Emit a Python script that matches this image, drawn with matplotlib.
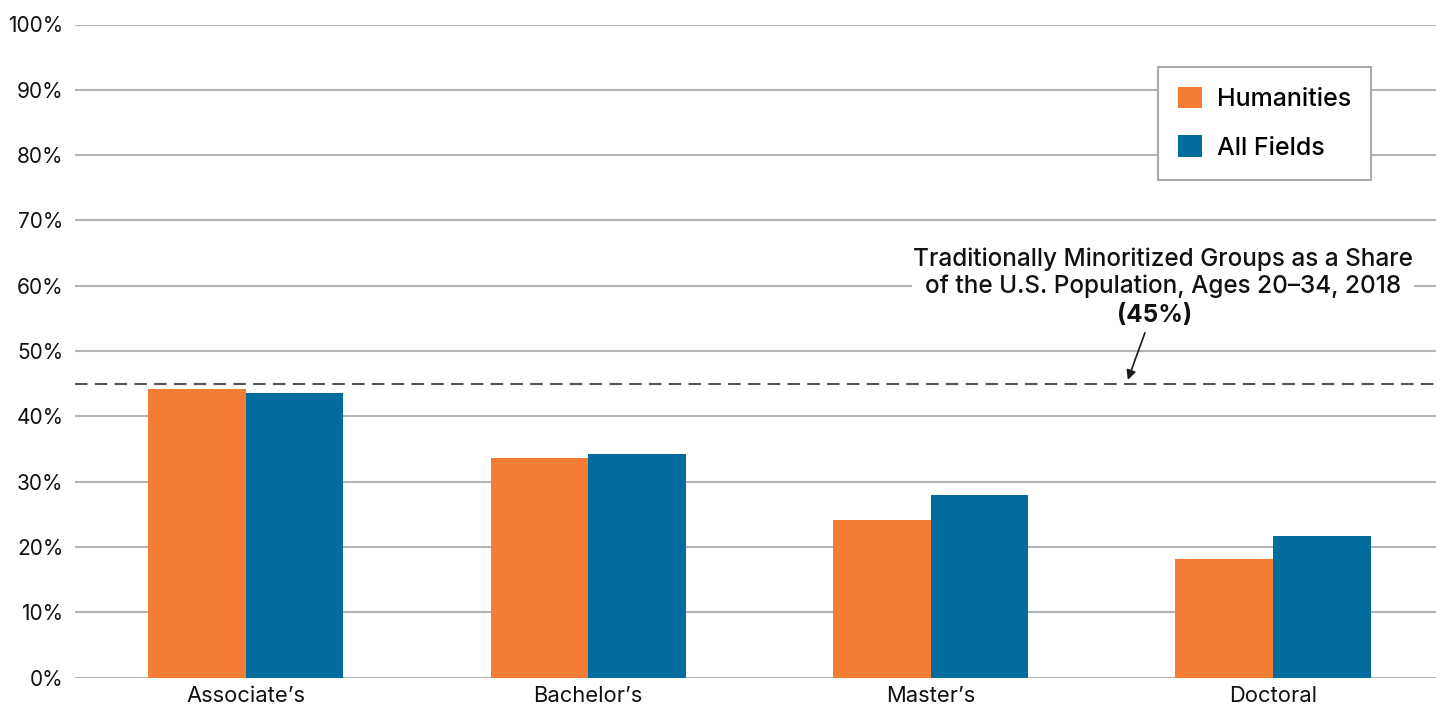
import matplotlib
matplotlib.use("Agg")
import matplotlib.pyplot as plt
import numpy as np

categories = ["Associate\u2019s", "Bachelor\u2019s", "Master\u2019s", "Doctoral"]
humanities = [44.2, 33.6, 24.2, 18.2]
all_fields = [43.6, 34.3, 27.9, 21.7]
reference_value = 45
yticks = [0, 10, 20, 30, 40, 50, 60, 70, 80, 90, 100]
ytick_labels = [f"{v}%" for v in yticks]
annotation_text = "Traditionally Minoritized Groups as a Share\nof the U.S. Population, Ages 20\u201334, 2018"
annotation_value = "(45%)"

plt.rcParams['font.family'] = ['Inter', 'DejaVu Sans']

fig = plt.figure(figsize=(14.36, 7.10), dpi=100)
ax = fig.add_axes([74.7/1436, 1-677.7/710, 1-74.7/1436, (677.7-24.5)/710])

x = np.arange(len(categories))
w = 0.285
ax.bar(x - w/2, humanities, width=w, color="#F47C33", label="Humanities", zorder=3)
ax.bar(x + w/2, all_fields, width=w, color="#016C9D", label="All Fields", zorder=3)

ax.set_xlim(-0.4994, 3.476)
ax.set_ylim(0, 100)
ax.set_yticks(yticks)
ax.set_yticklabels(ytick_labels, fontsize=15, color="#111111")
ax.set_xticks(x)
ax.set_xticklabels(categories, fontsize=15.8, color="#111111")
ax.tick_params(axis='both', length=0)
ax.tick_params(axis='y', pad=8)
ax.tick_params(axis='x', pad=6)
for s in ax.spines.values():
    s.set_visible(False)
ax.yaxis.grid(True, color="#b3b3b3", linewidth=1.5, zorder=0)
ax.set_axisbelow(True)

ax.axhline(reference_value, color="#555555", linewidth=1.5, linestyle=(0, (6, 3.5)), zorder=4)

ax.text(2.679, 62.0, annotation_text, ha='center', va='center', fontsize=17.5,
        color="#111111", linespacing=1.2, zorder=5, fontweight='medium',
        bbox=dict(facecolor='white', edgecolor='none', pad=1))
ax.text(2.653, 55.4, annotation_value, ha='center', va='center', fontsize=17.5,
        fontweight='bold', color="#111111", zorder=5)
ax.annotate("", xy=(2.576, 45.6), xytext=(2.626, 52.8),
            arrowprops=dict(arrowstyle="-|>", color="#1a1a1a", lw=1.2,
                            mutation_scale=14, shrinkA=0, shrinkB=0), zorder=5)

leg = ax.legend(loc='upper left', bbox_to_anchor=(0.7958, 0.9354), borderaxespad=0,
                frameon=True, fancybox=False, handlelength=0.96,
                handleheight=0.96, handletextpad=0.6, labelspacing=0.96,
                borderpad=0.8, prop={'size': 18, 'weight': 'medium'})
frame = leg.get_frame()
frame.set_edgecolor("#aaaaaa")
frame.set_linewidth(1.5)
frame.set_facecolor("white")
frame.set_alpha(1)

fig.savefig("out.png", dpi=100)
